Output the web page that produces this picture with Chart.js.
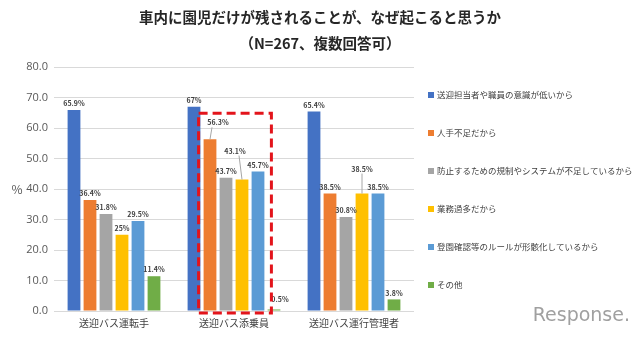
<!DOCTYPE html>
<html lang="ja">
<head>
  <meta charset="UTF-8">
  <title>車内に園児だけが残されることが、なぜ起こると思うか</title>
  <script src="https://cdn.jsdelivr.net/npm/chart.js"></script>
  <style>
    html, body { margin: 0; padding: 0; background: #fff; }
    #wrap { width: 640px; height: 338px; position: relative; }
  </style>
</head>
<body>
  <div id="wrap"><canvas id="chart"></canvas></div>

  <script>
    const FONT = "'Noto Sans CJK JP', 'Noto Sans', sans-serif";

    const titleLines = ["車内に園児だけが残されることが、なぜ起こると思うか", "（N=267、複数回答可）"];
    const categories = ["送迎バス運転手", "送迎バス添乗員", "送迎バス運行管理者"];
    const seriesNames = [
      "送迎担当者や職員の意識が低いから",
      "人手不足だから",
      "防止するための規制やシステムが不足しているから",
      "業務過多だから",
      "登園確認等のルールが形骸化しているから",
      "その他"
    ];
    const seriesColors = ["#4472C4", "#ED7D31", "#A5A5A5", "#FFC000", "#5B9BD5", "#70AD47"];

    // 値（%）
    const lowAwareness = [65.9, 67, 65.4];
    const understaffed = [36.4, 56.3, 38.5];
    const lackOfRules  = [31.8, 43.7, 30.8];
    const overworked   = [25, 43.1, 38.5];
    const formalized   = [29.5, 45.7, 38.5];
    const others       = [11.4, 0.5, 3.8];
    const seriesValues = [lowAwareness, understaffed, lackOfRules, overworked, formalized, others];

    const yTicks = [0, 10, 20, 30, 40, 50, 60, 70, 80];

    // ずらして置くラベル（系列, カテゴリ, 持ち上げ量, 横ずれ, 引き出し線）
    const movedLabels = [
      { ds: 1, idx: 1, lift: 10, dx: 8, line: true },
      { ds: 3, idx: 1, lift: 22, dx: -7, line: true },
      { ds: 3, idx: 2, lift: 18, dx: 0, line: true },
      { ds: 5, idx: 1, lift: 4, dx: 6, line: false }
    ];

    const dataLabels = {
      id: "dataLabels",
      afterDatasetsDraw(chart) {
        const ctx = chart.ctx;
        ctx.save();
        ctx.font = "bold 7px " + FONT;
        ctx.fillStyle = "#404040";
        ctx.textAlign = "center";
        ctx.textBaseline = "bottom";
        chart.data.datasets.forEach((ds, i) => {
          chart.getDatasetMeta(i).data.forEach((bar, j) => {
            const text = ds.data[j] + "%";
            const m = movedLabels.find(l => l.ds === i && l.idx === j);
            if (m) {
              const lx = bar.x + m.dx, ly = bar.y - 3 - m.lift;
              if (m.line) {
                ctx.strokeStyle = "#a6a6a6";
                ctx.lineWidth = 1;
                ctx.beginPath();
                ctx.moveTo(lx + (m.dx > 0 ? -6 : m.dx < 0 ? 4 : 0), ly + 1);
                ctx.lineTo(bar.x, bar.y);
                ctx.stroke();
              }
              ctx.fillText(text, lx, ly);
            } else {
              ctx.fillText(text, bar.x, bar.y - 3);
            }
          });
        });
        ctx.restore();
      }
    };

    const extras = {
      id: "extras",
      afterDraw(chart) {
        const ctx = chart.ctx;
        const y = chart.scales.y;
        ctx.save();

        // タイトル（キャンバス中央）
        ctx.font = "bold 14.5px " + FONT;
        ctx.fillStyle = "#262626";
        ctx.textAlign = "center";
        ctx.textBaseline = "middle";
        ctx.fillText(titleLines[0], 320, 17);
        ctx.fillText(titleLines[1], 320, 43);

        // 軸の単位
        ctx.font = "12px " + FONT;
        ctx.fillStyle = "#595959";
        ctx.fillText("%", 17, y.getPixelForValue(40));

        // 赤い点線の枠（添乗員の人手不足～形骸化）
        const first = chart.getDatasetMeta(1).data[1];
        const last = chart.getDatasetMeta(4).data[1];
        const left = first.x - first.width / 2 - 5;
        const right = last.x + last.width / 2 + 7;
        const top = y.getPixelForValue(64.8);
        const bottom = y.getPixelForValue(0) + 2;
        ctx.strokeStyle = "#e3141b";
        ctx.lineWidth = 3;
        ctx.setLineDash([9, 5]);
        ctx.strokeRect(left, top, right - left, bottom - top);
        ctx.setLineDash([]);

        // 凡例（右側）
        ctx.font = "8.5px " + FONT;
        ctx.textAlign = "left";
        seriesNames.forEach((name, i) => {
          const cy = 95 + i * 38;
          ctx.fillStyle = seriesColors[i];
          ctx.fillRect(428, cy - 3, 6, 6);
          ctx.fillStyle = "#404040";
          ctx.fillText(name, 437, cy);
        });

        // ロゴ
        ctx.font = "19px 'DejaVu Sans', sans-serif";
        ctx.fillStyle = "#a0a0a0";
        ctx.textAlign = "right";
        ctx.textBaseline = "alphabetic";
        ctx.fillText("Response.", 630, 321);
        ctx.restore();
      }
    };

    new Chart(document.getElementById("chart"), {
      type: "bar",
      data: {
        labels: categories,
        datasets: seriesNames.map((name, i) => ({
          label: name,
          data: seriesValues[i],
          backgroundColor: seriesColors[i],
          barPercentage: 0.8,
          categoryPercentage: 0.8
        }))
      },
      options: {
        responsive: true,
        maintainAspectRatio: false,
        animation: false,
        layout: { padding: { left: 0, right: 226, top: 67, bottom: 3 } },
        plugins: {
          title: { display: false },
          legend: { display: false },
          tooltip: { enabled: false }
        },
        scales: {
          x: {
            grid: { display: false, drawTicks: false },
            border: { display: false },
            ticks: { color: "#404040", font: { family: FONT, size: 10 }, padding: 6 }
          },
          y: {
            min: 0,
            max: 80,
            afterBuildTicks(scale) { scale.ticks = yTicks.map(v => ({ value: v })); },
            afterFit(scale) { scale.width = 54; },
            grid: { color: "#d9d9d9", drawTicks: false },
            border: { display: false },
            ticks: {
              color: "#595959",
              padding: 6,
              font: { family: "'Open Sans', sans-serif", size: 11 },
              callback: v => v.toFixed(1)
            }
          }
        }
      },
      plugins: [dataLabels, extras]
    });
  </script>
</body>
</html>
